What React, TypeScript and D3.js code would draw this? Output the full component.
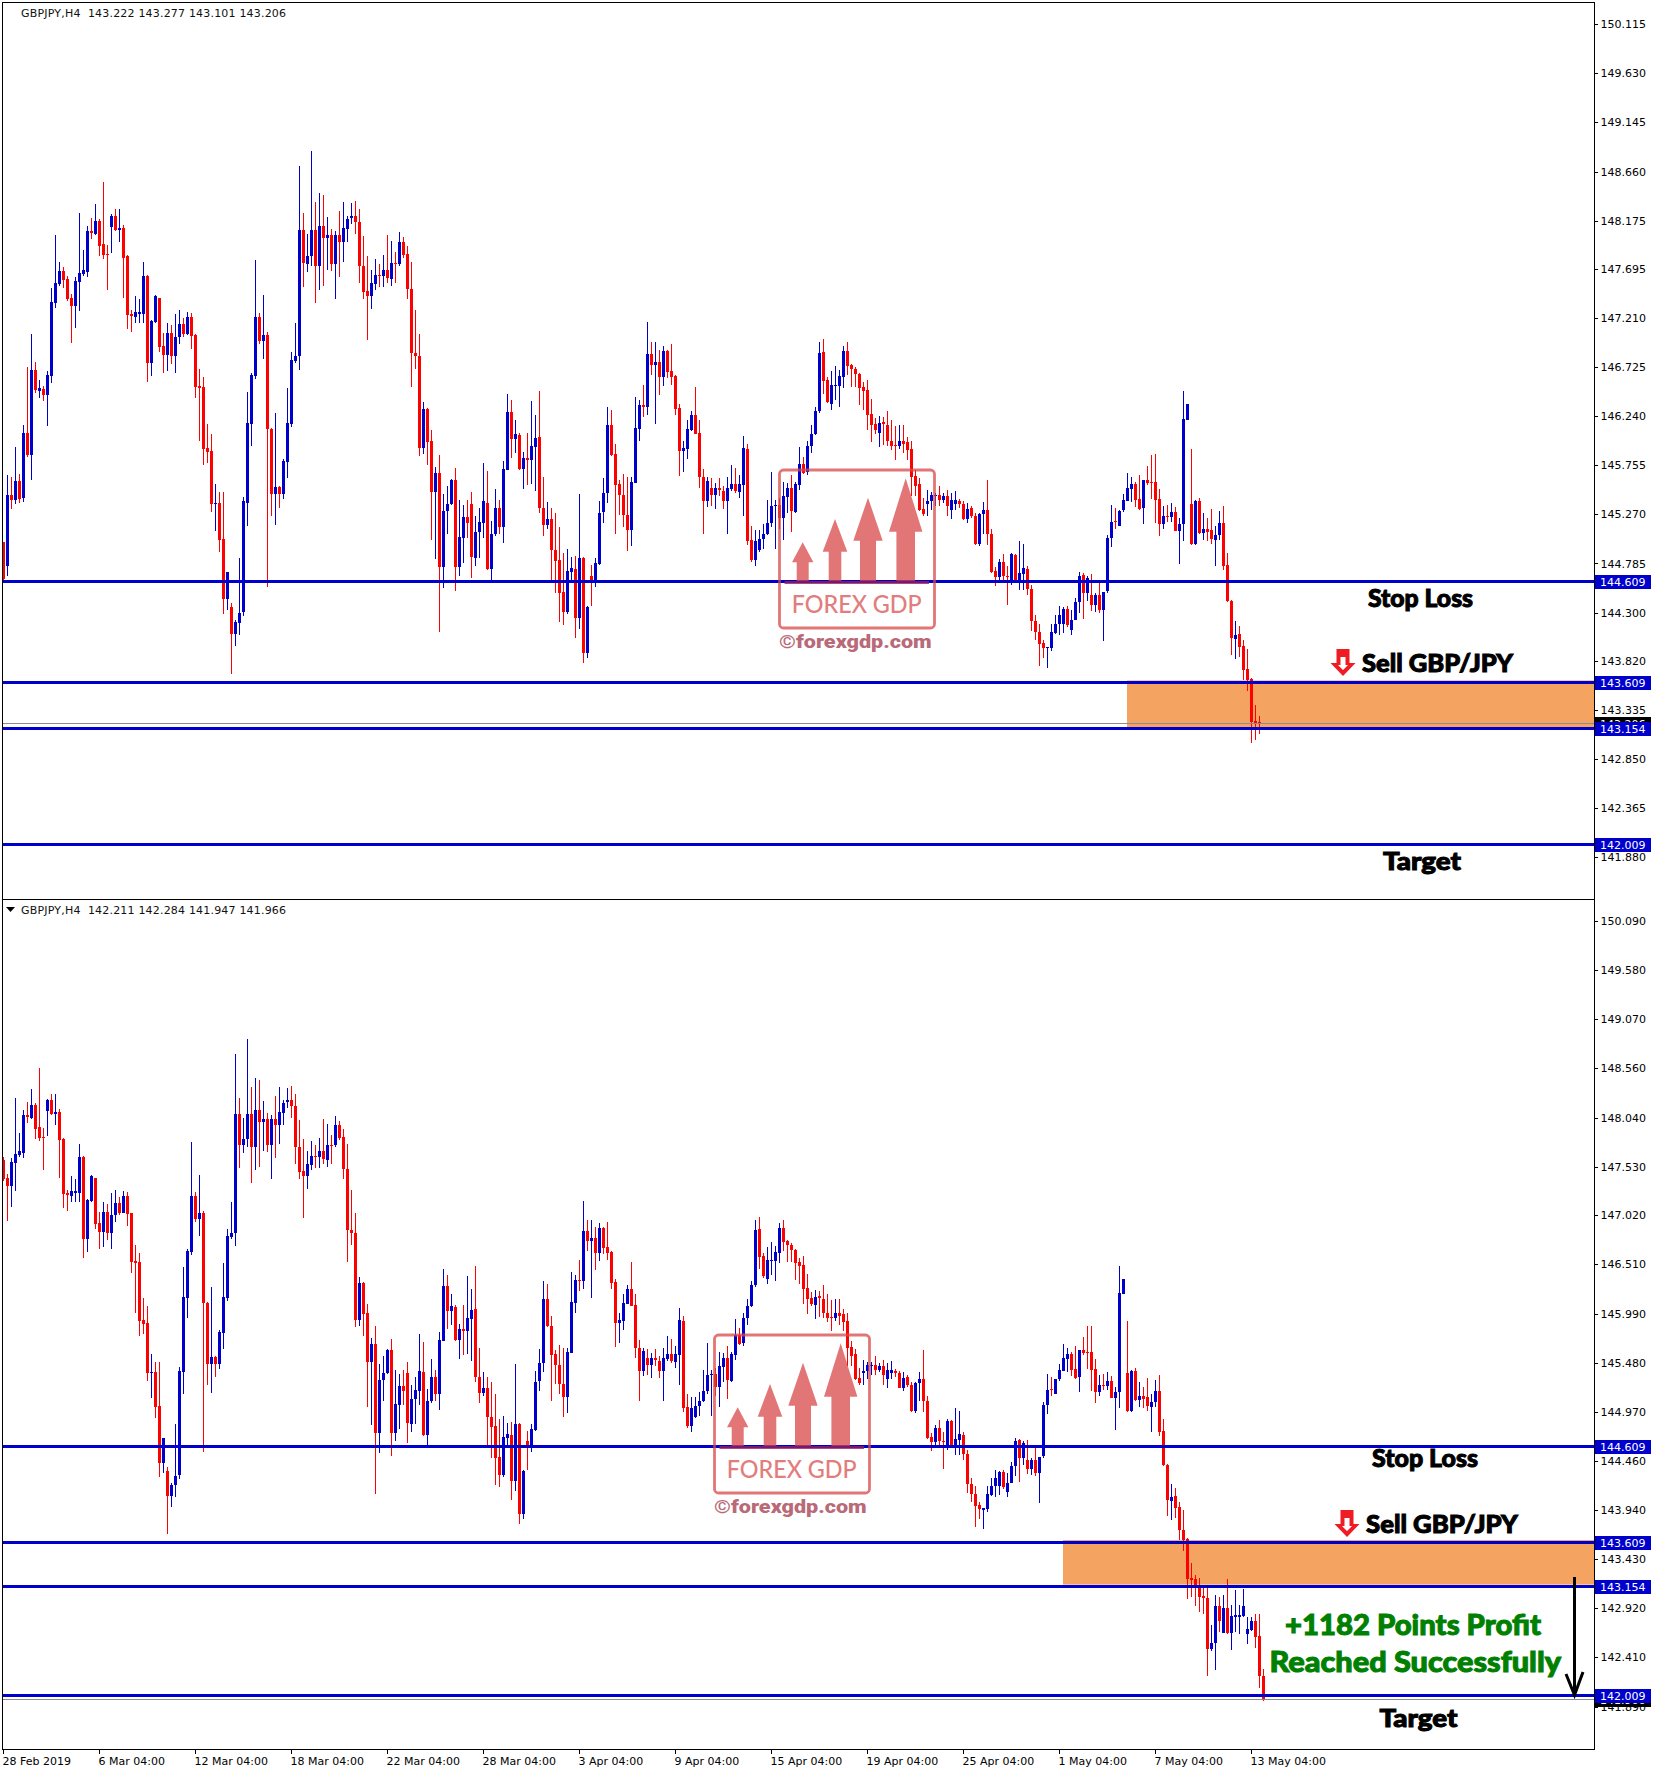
// App.tsx - GBPJPY H4 before / after panels

import React, { useRef, useEffect } from 'react';
import * as d3 from 'd3';

type Candle = [number, number, number, number]; // open, high, low, close

const candlesA: Candle[] = [
  [145.00,145.00,144.62,144.63],[144.76,145.66,144.66,145.46],[145.46,145.64,145.32,145.41],[145.41,145.94,145.37,145.60],
  [145.60,145.67,145.38,145.42],[145.43,146.15,145.39,146.08],[146.08,146.73,145.84,145.86],[145.86,147.05,145.61,146.70],
  [146.70,146.78,146.47,146.50],[146.49,146.60,146.42,146.52],[146.51,146.54,146.39,146.45],[146.45,146.69,146.14,146.65],
  [146.64,147.51,146.57,147.37],[147.36,148.03,147.31,147.56],[147.55,147.77,147.53,147.68],[147.68,147.72,147.51,147.59],
  [147.60,147.63,147.38,147.40],[147.41,147.45,146.96,147.33],[147.33,147.62,147.11,147.58],[147.57,148.25,147.28,147.66],
  [147.65,147.88,147.63,147.69],[147.67,148.12,147.62,148.07],[148.07,148.20,147.99,148.05],[148.04,148.34,148.03,148.17],
  [148.17,148.19,147.82,147.92],[147.94,148.56,147.80,147.83],[147.84,147.93,147.49,147.83],[148.11,148.24,147.85,148.22],
  [148.22,148.29,148.07,148.08],[148.08,148.29,147.96,148.10],[148.10,148.13,147.41,147.81],[147.82,147.83,147.10,147.24],
  [147.25,147.29,147.07,147.23],[147.22,147.43,147.16,147.27],[147.25,147.40,147.16,147.27],[147.25,147.77,147.16,147.63],
  [147.63,147.64,146.58,146.77],[146.77,147.19,146.64,147.18],[147.17,147.44,147.16,147.43],[147.41,147.41,146.88,146.93],
  [146.94,147.06,146.67,146.85],[146.85,147.16,146.69,147.06],[147.06,147.14,146.76,146.84],[146.84,147.25,146.67,147.02],
  [147.02,147.29,146.95,147.15],[147.15,147.21,147.02,147.05],[147.05,147.27,147.04,147.22],[147.22,147.26,146.91,147.03],
  [147.04,147.05,146.42,146.53],[146.54,146.71,146.00,146.52],[146.53,146.63,145.76,145.92],[145.93,146.16,145.78,145.89],
  [145.90,146.07,145.29,145.37],[145.37,145.57,145.11,145.38],[145.38,145.49,144.90,145.02],[145.03,145.49,144.29,144.43],
  [144.43,144.70,144.33,144.70],[144.35,144.39,143.69,144.09],[144.09,144.23,143.97,144.21],[144.20,144.84,144.08,144.30],
  [144.31,145.44,144.27,145.40],[145.38,146.48,145.16,146.17],[146.16,146.67,145.95,146.65],[146.64,147.79,146.61,147.22],
  [147.22,147.26,146.95,146.98],[146.98,147.44,146.81,147.04],[147.04,147.07,144.55,146.11],[146.11,146.12,145.25,145.47],
  [145.47,146.27,145.17,145.54],[145.54,145.55,145.33,145.47],[145.47,145.82,145.42,145.80],[145.79,146.52,145.63,146.17],
  [146.16,146.88,146.13,146.80],[146.79,147.16,146.77,146.84],[146.84,148.71,146.70,148.08],[148.08,148.25,147.52,147.76],
  [147.75,148.04,147.67,147.82],[147.82,148.86,147.73,148.08],[148.08,148.36,147.36,147.73],[147.73,148.45,147.49,148.12],
];

const candlesB: Candle[] = [
  [148.12,148.43,147.53,148.00],[148.00,148.21,147.69,148.03],[148.03,148.09,147.68,147.75],[147.75,148.07,147.40,148.03],
  [148.03,148.27,147.62,147.96],[147.96,148.36,147.77,148.10],[148.09,148.22,147.96,148.19],[148.20,148.35,148.14,148.22],
  [148.22,148.37,148.04,148.16],[148.16,148.29,147.56,147.73],[147.73,148.02,147.40,147.47],[147.48,147.82,146.99,147.43],
  [147.43,147.69,147.30,147.56],[147.55,147.80,147.49,147.64],[147.64,147.75,147.52,147.63],[147.63,147.83,147.52,147.69],
  [147.69,148.03,147.56,147.61],[147.60,147.97,147.53,147.76],[147.76,147.86,147.56,147.75],[147.75,148.06,147.73,147.96],
  [147.96,148.01,147.81,147.83],[147.84,147.92,147.40,147.50],[147.50,147.77,146.53,146.87],[146.87,147.29,146.71,146.84],
  [146.84,147.05,145.85,145.93],[145.93,146.38,145.87,146.31],[146.31,146.32,145.76,145.99],[146.00,146.10,145.02,145.49],
  [145.49,145.74,144.83,145.68],[145.68,145.86,144.11,144.75],[144.75,145.47,144.54,145.30],[145.30,145.55,145.08,145.37],
  [145.37,145.62,145.36,145.61],[145.61,145.73,144.51,144.75],[144.75,145.41,144.66,145.05],[145.04,145.36,144.79,145.24],
  [145.24,145.41,145.04,145.19],[145.37,145.49,144.64,144.85],[144.84,145.25,144.76,145.10],[145.10,145.33,144.84,145.20],
  [145.19,145.78,145.04,145.40],[145.38,145.70,144.72,144.73],[144.73,145.21,144.62,145.08],[145.08,145.52,145.06,145.33],
  [145.33,145.41,145.08,145.15],[145.15,145.80,144.99,145.72],[145.71,146.46,145.71,146.28],[146.28,146.40,145.83,146.02],
  [146.02,146.20,145.88,146.07],[146.06,146.08,145.71,145.72],[145.72,145.89,145.52,145.83],[145.83,146.08,145.56,145.81],
  [145.81,146.39,145.57,145.95],[145.94,146.25,145.50,146.03],[146.04,146.49,145.28,145.33],[145.33,145.64,145.06,145.17],
  [145.17,145.39,145.13,145.22],[145.22,145.33,144.62,144.92],[144.92,145.28,144.49,144.81],[144.82,145.15,144.21,144.49],
  [144.50,144.89,144.18,144.31],[144.31,144.93,144.29,144.71],[144.70,144.85,144.59,144.74],[144.73,144.86,144.05,144.25],
  [144.25,145.47,144.14,144.84],[144.84,144.85,143.80,143.90],[143.90,144.36,143.85,144.35],[144.66,144.77,144.36,144.59],
  [144.59,144.84,144.55,144.79],[144.78,145.40,144.77,145.28],[145.29,145.63,145.19,145.48],[145.48,146.33,145.38,146.15],
  [146.15,146.30,145.85,145.86],[145.87,145.97,145.08,145.56],[145.57,145.61,145.26,145.46],[145.46,145.67,145.15,145.26],
  [145.26,145.64,144.91,145.12],[145.12,145.64,144.96,145.59],[145.58,146.43,145.58,146.12],[146.11,146.40,146.00,146.35],
];

const candlesC: Candle[] = [
  [146.35,146.55,146.23,146.33],[146.33,147.17,146.25,146.86],[146.86,146.97,146.65,146.75],[146.75,146.97,146.16,146.78],
  [146.78,146.90,146.45,146.63],[146.63,146.94,146.54,146.89],[146.89,146.90,146.62,146.68],[146.69,146.95,146.55,146.63],
  [146.64,146.65,146.25,146.31],[146.32,146.36,145.65,145.90],[145.90,146.00,145.69,145.93],[145.92,146.20,145.82,146.11],
  [146.10,146.29,146.09,146.25],[146.25,146.53,146.07,146.07],[146.08,146.20,145.53,145.64],[145.64,145.72,145.08,145.40],
  [145.40,145.64,145.34,145.60],[145.53,145.63,145.35,145.46],[145.46,145.58,145.32,145.53],[145.53,145.63,145.45,145.51],
  [145.50,145.55,145.32,145.40],[145.40,145.64,145.08,145.53],[145.52,145.76,145.50,145.57],[145.57,145.73,145.48,145.50],
  [145.49,145.66,145.43,145.57],[145.56,146.05,145.25,145.93],[145.92,145.97,144.97,145.01],[145.02,145.16,144.80,144.82],
  [144.82,145.12,144.76,145.01],[144.92,145.12,144.90,145.03],[145.03,145.18,144.93,145.08],[145.08,145.41,145.07,145.19],
  [145.19,145.69,145.15,145.35],[145.35,145.41,144.93,145.36],[145.36,145.43,145.13,145.23],[145.23,145.59,145.02,145.45],
  [145.44,145.58,145.28,145.53],[145.53,145.66,145.10,145.30],[145.29,145.59,145.28,145.57],[145.56,145.94,145.51,145.77],
  [145.77,145.84,145.67,145.68],[145.69,146.00,145.66,145.95],[145.95,146.15,145.88,146.07],[146.07,146.33,146.06,146.29],
  [146.29,146.97,146.27,146.87],[146.88,147.00,146.46,146.59],[146.60,146.63,146.37,146.385],[146.36,146.69,146.30,146.55],
  [146.54,146.74,146.40,146.55],[146.54,146.70,146.33,146.64],[146.63,146.94,146.52,146.89],[146.89,146.97,146.65,146.74],
  [146.75,146.76,146.53,146.71],[146.71,146.73,146.53,146.66],[146.66,146.67,146.35,146.52],[146.53,146.58,146.30,146.49],
  [146.50,146.60,146.10,146.25],[146.26,146.41,145.99,146.15],[146.16,146.22,146.07,146.10],[146.08,146.24,145.94,146.17],
  [146.18,146.23,145.96,146.16],[146.15,146.29,145.95,146.00],[146.00,146.20,145.91,145.95],[145.96,146.14,145.81,145.95],
  [145.95,146.15,145.92,146.00],[146.00,146.15,145.88,145.97],[145.99,146.04,145.81,145.91],[145.92,146.00,145.45,145.64],
  [145.65,145.71,145.45,145.55],[145.57,145.63,145.30,145.31],[145.32,145.43,145.25,145.27],[145.37,145.51,145.25,145.40],
  [145.40,145.49,145.31,145.46],[145.45,145.485,145.35,145.46],[145.46,145.55,145.35,145.41],[145.41,145.48,145.38,145.45],
  [145.45,145.51,145.25,145.35],[145.31,145.48,145.22,145.41],[145.37,145.50,145.31,145.41],[145.40,145.42,145.33,145.37],
];

const candlesD: Candle[] = [
  [145.37,145.40,145.215,145.22],[145.22,145.38,145.19,145.32],[145.33,145.35,145.23,145.25],[145.25,145.28,144.97,144.975],
  [144.975,145.28,144.96,145.27],[145.27,145.39,145.08,145.31],[145.31,145.61,144.97,145.08],[145.08,145.13,144.69,144.70],
  [144.71,144.75,144.56,144.65],[144.65,144.83,144.61,144.80],[144.80,144.88,144.59,144.66],[144.66,144.76,144.37,144.65],
  [144.61,144.89,144.57,144.875],[144.87,144.88,144.59,144.61],[144.61,145.01,144.52,144.69],[144.68,144.98,144.52,144.74],
  [144.73,144.76,144.47,144.53],[144.53,144.57,144.12,144.22],[144.22,144.28,144.03,144.11],[144.11,144.19,143.77,143.99],
  [144.00,144.03,143.85,143.95],[143.945,143.96,143.75,143.96],[143.95,144.19,143.92,144.11],[144.10,144.28,144.09,144.19],
  [144.19,144.36,144.08,144.28],[144.19,144.35,144.10,144.34],[144.34,144.36,144.16,144.18],[144.13,144.33,144.08,144.23],
  [144.23,144.44,144.23,144.40],[144.40,144.70,144.30,144.66],[144.67,144.69,144.24,144.49],[144.49,144.66,144.41,144.64],
  [144.47,144.68,144.32,144.37],[144.37,144.49,144.31,144.47],[144.47,144.61,144.30,144.33],[144.33,144.50,144.02,144.50],
  [144.51,145.07,144.49,145.04],[145.04,145.36,144.95,145.20],[145.21,145.33,145.13,145.195],[145.16,145.31,145.16,145.307],
  [145.31,145.47,145.29,145.41],[145.40,145.68,145.40,145.53],[145.52,145.64,145.39,145.57],[145.57,145.59,145.34,145.41],
  [145.42,145.66,145.31,145.32],[145.33,145.61,145.18,145.61],[145.61,145.75,145.56,145.58],[145.59,145.86,145.42,145.58],
  [145.59,145.87,145.19,145.41],[145.42,145.52,145.06,145.18],[145.18,145.35,145.13,145.25],[145.25,145.36,145.20,145.24],
  [145.24,145.38,145.20,145.29],[145.29,145.34,145.11,145.11],[145.11,145.23,144.78,145.18],[145.18,146.49,145.01,146.21],
  [146.20,146.36,146.20,146.36],[145.37,145.92,144.97,144.98],[144.98,145.41,144.97,145.40],[145.40,145.43,145.08,145.09],
  [145.09,145.28,145.02,145.13],[145.13,145.23,145.01,145.10],[145.12,145.32,144.98,145.03],[145.02,145.16,144.76,145.07],
  [145.07,145.30,145.02,145.19],[145.19,145.35,144.72,144.76],[144.77,144.89,144.40,144.41],[144.41,144.42,143.88,144.05],
  [144.04,144.22,143.84,144.08],[144.09,144.17,143.86,143.96],[143.97,144.03,143.63,143.73],[143.74,143.94,143.52,143.63],
  [143.64,143.65,143.01,143.22],[143.23,143.39,143.04,143.21],
];

// the bar that was still open when the upper shot was taken
const openBarTop: Candle = [143.222, 143.277, 143.101, 143.206];

const candlesE: Candle[] = [
  [143.22,143.27,142.94,143.13],[143.14,143.23,142.88,143.04],[143.05,143.16,142.86,143.02],[143.03,143.14,142.21,142.49],
  [142.49,142.74,142.47,142.56],[142.56,143.06,142.27,142.94],[142.94,143.04,142.67,142.78],[142.66,143.06,142.66,142.92],
  [142.92,143.22,142.65,142.66],[142.66,142.95,142.48,142.84],[142.83,143.11,142.67,142.85],[142.83,142.95,142.65,142.85],
  [142.84,143.12,142.83,142.94],[142.65,142.83,142.54,142.70],[142.69,142.83,142.68,142.79],[142.79,142.86,142.50,142.62],
  [142.63,142.86,142.09,142.21],[142.211,142.284,141.947,141.966],
];

const topTicks = [150.115,149.63,149.145,148.66,148.175,147.695,147.21,146.725,146.24,145.755,145.27,144.785,144.3,143.82,143.335,142.85,142.365,141.88];
const bottomTicks = [150.09,149.58,149.07,148.56,148.04,147.53,147.02,146.51,145.99,145.48,144.97,144.46,143.94,143.43,142.92,142.41,141.89];
const levels = [144.609, 143.609, 143.154, 142.009];
const zoneLevels = [143.609, 143.154];
const dateLabels = ['28 Feb 2019','6 Mar 04:00','12 Mar 04:00','18 Mar 04:00','22 Mar 04:00','28 Mar 04:00','3 Apr 04:00','9 Apr 04:00','15 Apr 04:00','19 Apr 04:00','25 Apr 04:00','1 May 04:00','7 May 04:00','13 May 04:00'];

const BLUE = '#0000cd';
const RED = '#ff0000';
const AXIS_X = 1594;
const UI_FONT = '"DejaVu Sans", sans-serif';
const NOTE_FONT = 'Lato, "Noto Sans", sans-serif';
const MARK = 'rgba(216,72,72,0.75)';

const allCandles = [...candlesA, ...candlesB, ...candlesC, ...candlesD];

type G = d3.Selection<SVGGElement, unknown, null, undefined>;

function drawCandles(g: G, data: Candle[], x: d3.ScaleLinear<number, number>, y: d3.ScaleLinear<number, number>) {
  const bars = g.append('g').selectAll('g').data(data).join('g')
    .attr('fill', d => (d[3] >= d[0] ? BLUE : RED));
  bars.append('rect')
    .attr('x', (_, i) => x(i) - 0.5)
    .attr('width', 1)
    .attr('y', d => Math.round(y(d[1])))
    .attr('height', d => Math.max(1, Math.round(y(d[2])) - Math.round(y(d[1]))));
  bars.append('rect')
    .attr('x', (_, i) => x(i) - 1.5)
    .attr('width', 3)
    .attr('y', d => Math.round(y(Math.max(d[0], d[3]))))
    .attr('height', d => Math.max(1, Math.round(y(Math.min(d[0], d[3]))) - Math.round(y(Math.max(d[0], d[3])))));
}

function drawAxis(g: G, ticks: number[], y: d3.ScaleLinear<number, number>) {
  const axis = g.append('g')
    .attr('transform', `translate(${AXIS_X + 0.5},0)`)
    .call(d3.axisRight(y).tickValues(ticks).tickFormat(d3.format('.3f')).tickSize(3).tickPadding(2));
  axis.select('.domain').remove();
  axis.selectAll('line').attr('stroke', '#000').attr('shape-rendering', 'crispEdges');
  axis.selectAll('text').attr('fill', '#000').attr('font-size', 11).attr('font-family', UI_FONT).attr('x', 6);
}

function priceLabel(g: G, price: number, y: d3.ScaleLinear<number, number>, fill: string) {
  const py = y(price);
  g.append('rect').attr('x', AXIS_X + 1).attr('y', Math.round(py) - 6).attr('width', 56).attr('height', 14).attr('fill', fill);
  g.append('text').attr('x', AXIS_X + 6).attr('y', Math.round(py) + 5)
    .attr('fill', '#fff').attr('font-size', 11).attr('font-family', UI_FONT).text(price.toFixed(3));
}

function note(g: G, x: number, y: number, width: number, size: number, text: string, fill = '#000') {
  g.append('text').attr('x', x).attr('y', y)
    .attr('textLength', width).attr('lengthAdjust', 'spacingAndGlyphs')
    .attr('font-family', NOTE_FONT).attr('font-weight', 900).attr('font-size', size)
    .attr('fill', fill).attr('stroke', fill).attr('stroke-width', 1)
    .text(text);
}

function sellArrow(g: G, cx: number, top: number) {
  g.append('path')
    .attr('d', `M${cx - 6.5},${top} h13 v14 h6 L${cx},${top + 27} L${cx - 12.5},${top + 14} h6 Z`)
    .attr('fill', '#ee1c25');
  g.append('path')
    .attr('d', `M${cx - 2.5},${top + 8} h5 v8 h2.5 L${cx},${top + 21} L${cx - 5},${top + 16} h2.5 Z`)
    .attr('fill', '#fff');
}

// drawn at the position it has in the lower panel, moved for the upper one
function watermark(g: G, dx: number, dy: number) {
  const w = g.append('g').attr('transform', `translate(${dx},${dy})`);
  w.append('rect').attr('x', 714.5).attr('y', 1335).attr('width', 155).attr('height', 158).attr('rx', 4)
    .attr('fill', 'none').attr('stroke', MARK).attr('stroke-width', 2.8);
  // arrows: centre, tip, shoulder, head half width, shaft half width
  const arrows = [[737.7, 1407.3, 1427.3, 10.7, 6], [770, 1384, 1416.7, 12.3, 6.3], [803, 1362.7, 1405.7, 14.7, 8], [840.7, 1343.3, 1396.7, 16.7, 9.3]];
  arrows.forEach(([c, tip, sh, hw, sw]) => {
    w.append('path')
      .attr('d', `M${c},${tip} L${c + hw},${sh} H${c + sw} V1446 H${c - sw} V${sh} H${c - hw} Z`)
      .attr('fill', MARK);
  });
  w.append('rect').attr('x', 719.5).attr('y', 1446).attr('width', 144.5).attr('height', 3).attr('fill', 'rgba(150,30,90,0.8)');
  w.append('text').attr('x', 726.7).attr('y', 1477.5).attr('textLength', 130).attr('lengthAdjust', 'spacingAndGlyphs')
    .attr('font-family', NOTE_FONT).attr('font-weight', 500).attr('font-size', 24).attr('fill', '#e27d7d').text('FOREX GDP');
  w.append('text').attr('x', 714).attr('y', 1513.3).attr('textLength', 152.7).attr('lengthAdjust', 'spacingAndGlyphs')
    .attr('font-family', 'Roboto, sans-serif').attr('font-weight', 900).attr('font-size', 19).attr('fill', '#b96a78').text('©forexgdp.com');
}

function drawPanel(g: G, opts: {
  data: Candle[]; ticks: number[]; y: d3.ScaleLinear<number, number>; x: d3.ScaleLinear<number, number>;
  zoneLeft: number; bid: number;
}) {
  const { data, ticks, y, x, zoneLeft, bid } = opts;
  drawAxis(g, ticks, y);
  g.append('rect').attr('x', zoneLeft).attr('width', AXIS_X - zoneLeft)
    .attr('y', y(zoneLevels[0]) - 2).attr('height', y(zoneLevels[1]) - y(zoneLevels[0]) + 1)
    .attr('fill', '#f4a460');
  drawCandles(g, data, x, y);
  g.append('rect').attr('x', 3).attr('width', AXIS_X - 3).attr('y', Math.round(y(bid))).attr('height', 1).attr('fill', '#8c8c96');
  levels.forEach(p => {
    g.append('rect').attr('x', 3).attr('width', AXIS_X - 3).attr('y', Math.round(y(p)) - 1).attr('height', 3).attr('fill', BLUE);
  });
  priceLabel(g, bid, y, '#000');
  levels.forEach(p => priceLabel(g, p, y, BLUE));
}

const App: React.FC = () => {
  const svgRef = useRef<SVGSVGElement | null>(null);

  useEffect(() => {
    const svg = d3.select(svgRef.current);
    svg.selectAll('*').remove();
    const root = svg.append('g') as unknown as G;

    root.append('rect').attr('width', 1655).attr('height', 1771).attr('fill', '#fff');

    const yTop = d3.scaleLinear().domain([144.609, 142.009]).range([581.3, 844.3]);
    const yBottom = d3.scaleLinear().domain([144.609, 142.009]).range([1446.3, 1695.3]);
    const x = d3.scaleLinear().domain([0, 1]).range([3.5, 7.5]);

    const topData = [...allCandles, openBarTop];
    const bottomData = [...allCandles, ...candlesE].slice(16);

    drawPanel(root, { data: topData, ticks: topTicks, y: yTop, x, zoneLeft: 1127, bid: 143.206 });
    drawPanel(root, { data: bottomData, ticks: bottomTicks, y: yBottom, x, zoneLeft: 1063, bid: 141.966 });

    // frame
    [[2, 2, AXIS_X - 2, 1], [2, 899, AXIS_X - 2, 1], [2, 1749, AXIS_X - 2, 1], [2, 2, 1, 1748], [AXIS_X, 2, 1, 1748]].forEach(([rx, ry, w, h]) => {
      root.append('rect').attr('x', rx).attr('y', ry).attr('width', w).attr('height', h).attr('fill', '#000');
    });

    // time axis, one label every 24 bars
    dateLabels.forEach((label, i) => {
      const tx = x(i * 24);
      root.append('rect').attr('x', tx - 0.5).attr('y', 1750).attr('width', 1).attr('height', 4).attr('fill', '#000');
      root.append('text').attr('x', tx - 1).attr('y', 1765).attr('font-size', 11).attr('font-family', UI_FONT).attr('fill', '#000').text(label);
    });

    // headers
    const header = (y0: number, text: string) => root.append('text').attr('x', 21).attr('y', y0)
      .attr('xml:space', 'preserve').style('white-space', 'pre')
      .attr('textLength', 265).attr('lengthAdjust', 'spacing')
      .attr('font-size', 11).attr('font-family', UI_FONT).attr('fill', '#111').text(text);
    header(16.5, 'GBPJPY,H4  143.222 143.277 143.101 143.206');
    header(913.5, 'GBPJPY,H4  142.211 142.284 141.947 141.966');
    root.append('path').attr('d', 'M6,907 h9 l-4.5,5 Z').attr('fill', '#000');

    watermark(root, 0, 0);
    watermark(root, 65, -865);

    note(root, 1368, 606.5, 105, 25, 'Stop Loss');
    note(root, 1362, 671.5, 151, 25, 'Sell GBP/JPY');
    note(root, 1383, 870, 78, 25, 'Target');
    sellArrow(root, 1343, 649);

    note(root, 1372, 1467, 106, 25, 'Stop Loss');
    note(root, 1366, 1533, 152, 25, 'Sell GBP/JPY');
    note(root, 1379.5, 1727, 78, 25, 'Target');
    sellArrow(root, 1347, 1510);
    note(root, 1285, 1635, 256, 29, '+1182 Points Profit', '#008000');
    note(root, 1269.5, 1672, 291.5, 29, 'Reached Successfully', '#008000');

    // profit arrow
    root.append('path')
      .attr('d', 'M1574.5,1577 V1695 M1566,1674 L1574.5,1695 L1583,1672')
      .attr('fill', 'none').attr('stroke', '#000').attr('stroke-width', 3);
  }, []);

  return <svg ref={svgRef} width={1655} height={1771} style={{ position: 'absolute', left: 0, top: 0, display: 'block' }}></svg>;
};

export default App;
